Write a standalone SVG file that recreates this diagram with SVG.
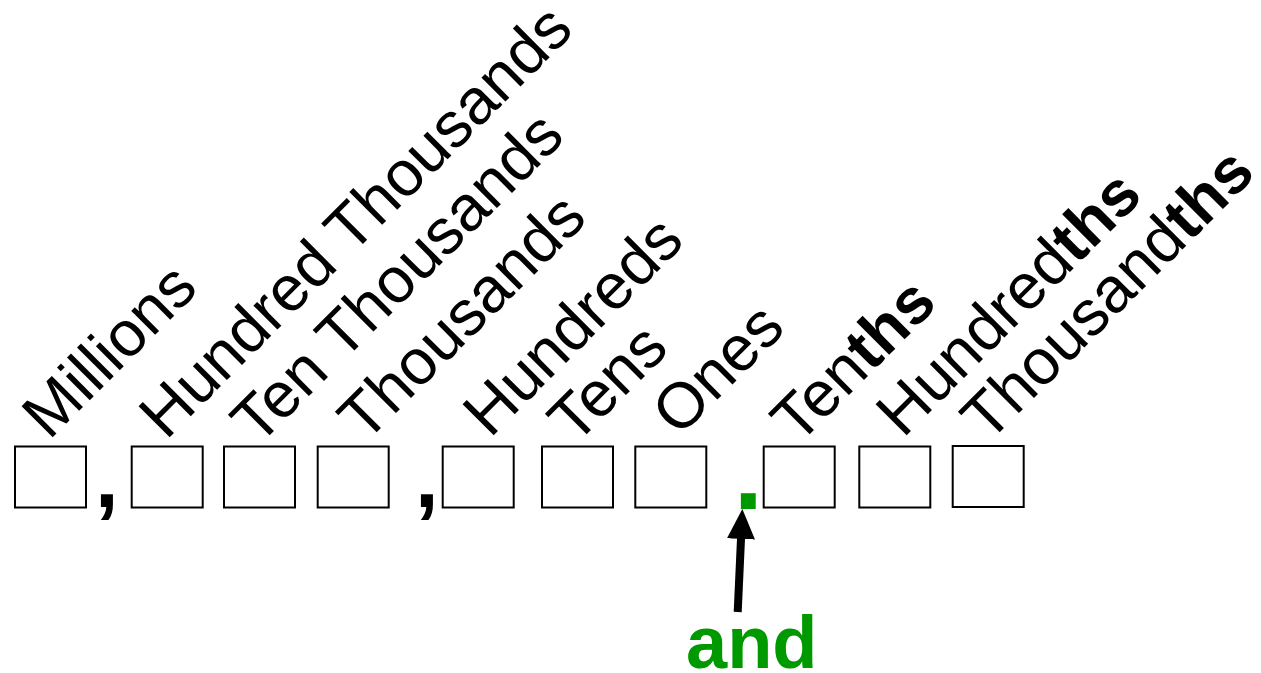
<svg xmlns="http://www.w3.org/2000/svg" width="1261" height="673" viewBox="0 0 1261 673">
<style>
.box{fill:#fff;stroke:#000;stroke-width:2}
.lbl{font-family:"Liberation Sans",Arial,sans-serif;font-size:64px;fill:#000}
.b{font-weight:bold}
.sep{font-family:"Liberation Sans",Arial,sans-serif;font-weight:bold;font-size:85px;fill:#000}
.dot{font-family:"Liberation Sans",Arial,sans-serif;font-weight:bold;font-size:105px;fill:#009900}
.and{font-family:"Liberation Sans",Arial,sans-serif;font-weight:bold;font-size:74px;fill:#009900}
</style>
<defs>
<marker id="ah" markerUnits="userSpaceOnUse" markerWidth="30" markerHeight="28" viewBox="0 0 30 28" refX="9" refY="14" orient="auto">
<path d="M0,0 L30,14 L0,28 Z" fill="#000"/>
</marker>
</defs>
<rect width="1261" height="673" fill="#fff"/>
<g id="millions"><rect class="box" x="15" y="446.5" width="71" height="61"/><text class="lbl" transform="translate(49,441) rotate(-45)">Millions</text></g>
<g id="hundred-thousands"><rect class="box" x="131.7" y="446.5" width="71" height="61"/><text class="lbl" transform="translate(166,441) rotate(-45)">Hundred Thousands</text></g>
<g id="ten-thousands"><rect class="box" x="224" y="446.5" width="71" height="61"/><text class="lbl" transform="translate(258,447) rotate(-45)">Ten Thousands</text></g>
<g id="thousands"><rect class="box" x="317.7" y="446.5" width="71" height="61"/><text class="lbl" transform="translate(365,444) rotate(-45)">Thousands</text></g>
<g id="hundreds"><rect class="box" x="442.7" y="446.5" width="71" height="61"/><text class="lbl" transform="translate(490,439) rotate(-45)">Hundreds</text></g>
<g id="tens"><rect class="box" x="542" y="446.5" width="71" height="61"/><text class="lbl" transform="translate(575,446) rotate(-45)">Tens</text></g>
<g id="ones"><rect class="box" x="635.3" y="446.5" width="71" height="61"/><text class="lbl" transform="translate(679,438) rotate(-45)">Ones</text></g>
<g id="tenths"><rect class="box" x="763.7" y="446.5" width="71" height="61"/><text class="lbl" transform="translate(798,446) rotate(-45)">Ten<tspan class="b">ths</tspan></text></g>
<g id="hundredths"><rect class="box" x="859.3" y="446.5" width="71" height="61"/><text class="lbl" transform="translate(903,439) rotate(-45)">Hundred<tspan class="b">ths</tspan></text></g>
<g id="thousandths"><rect class="box" x="952.7" y="446" width="71" height="61"/><text class="lbl" transform="translate(988,444) rotate(-45)">Thousand<tspan class="b">ths</tspan></text></g>
<g id="separators">
<text class="sep" x="95" y="506.5">,</text>
<text class="sep" x="415" y="506.5">,</text>
<text class="dot" x="733.7" y="509">.</text>
</g>
<g id="and-label"><text class="and" x="686" y="668">and</text></g>
<g id="connectors">
<line x1="737.7" y1="612" x2="741.4" y2="530" stroke="#000" stroke-width="8" marker-end="url(#ah)"/>
</g>
</svg>
